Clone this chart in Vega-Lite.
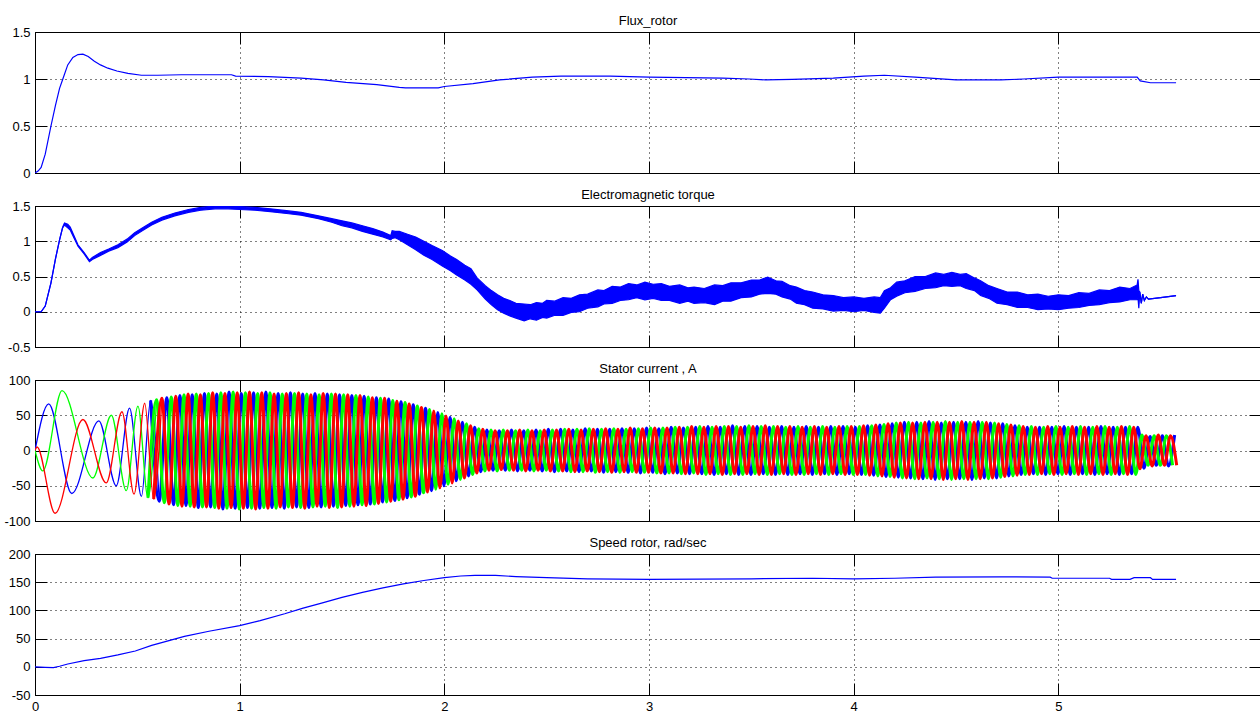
{
"$schema":"https://vega.github.io/schema/vega-lite/v6.json",
"background":"white",
"padding":{"left":3,"top":14,"right":0,"bottom":0},
"bounds":"flush",
"spacing":33,
"config":{
"font":"Liberation Sans",
"view":{"stroke":"#000","strokeWidth":1},
"axis":{"domain":false,"grid":false,"gridColor":"#000","gridDash":[1,4],"gridOpacity":1,"gridWidth":1,"tickColor":"#000","tickSize":-12,"tickWidth":1,"labelFont":"Liberation Sans","labelFontSize":13,"labelColor":"#000","labelPadding":17,"labelFlush":false,"title":null},
"title":{"font":"Liberation Sans","fontSize":13,"fontWeight":"normal","color":"#000","offset":-2}
},
"datasets":{
"flux":[{"t":0,"v":0},{"t":0.015,"v":0.02},{"t":0.03,"v":0.06},{"t":0.05,"v":0.2},{"t":0.078,"v":0.5},{"t":0.1,"v":0.72},{"t":0.12,"v":0.9},{"t":0.136,"v":1.0},{"t":0.16,"v":1.15},{"t":0.185,"v":1.23},{"t":0.21,"v":1.26},{"t":0.234,"v":1.265},{"t":0.26,"v":1.24},{"t":0.29,"v":1.19},{"t":0.32,"v":1.15},{"t":0.356,"v":1.115},{"t":0.4,"v":1.085},{"t":0.454,"v":1.06},{"t":0.52,"v":1.04},{"t":0.6,"v":1.04},{"t":0.716,"v":1.045},{"t":0.96,"v":1.045},{"t":0.98,"v":1.03},{"t":1.14,"v":1.025},{"t":1.3,"v":1.01},{"t":1.41,"v":0.99},{"t":1.52,"v":0.965},{"t":1.67,"v":0.94},{"t":1.78,"v":0.91},{"t":1.81,"v":0.905},{"t":1.97,"v":0.905},{"t":2.0,"v":0.92},{"t":2.14,"v":0.95},{"t":2.27,"v":0.99},{"t":2.43,"v":1.02},{"t":2.57,"v":1.03},{"t":2.81,"v":1.03},{"t":3.0,"v":1.02},{"t":3.36,"v":1.01},{"t":3.49,"v":1.0},{"t":3.57,"v":0.99},{"t":3.7,"v":0.995},{"t":3.9,"v":1.01},{"t":4.05,"v":1.03},{"t":4.15,"v":1.04},{"t":4.3,"v":1.02},{"t":4.5,"v":0.99},{"t":4.72,"v":0.99},{"t":4.83,"v":1.0},{"t":5.0,"v":1.02},{"t":5.385,"v":1.02},{"t":5.4,"v":0.98},{"t":5.45,"v":0.96},{"t":5.575,"v":0.96}],
"torque":[{"t":0,"lo":0,"hi":0},{"t":0.03,"lo":0,"hi":0},{"t":0.05,"lo":0.08,"hi":0.08},{"t":0.078,"lo":0.41,"hi":0.41},{"t":0.1,"lo":0.75,"hi":0.75},{"t":0.12,"lo":1.02,"hi":1.02},{"t":0.135,"lo":1.19,"hi":1.2},{"t":0.144,"lo":1.23,"hi":1.26},{"t":0.16,"lo":1.19,"hi":1.24},{"t":0.172,"lo":1.16,"hi":1.2},{"t":0.19,"lo":1.05,"hi":1.08},{"t":0.21,"lo":0.93,"hi":0.95},{"t":0.24,"lo":0.82,"hi":0.84},{"t":0.266,"lo":0.71,"hi":0.73},{"t":0.28,"lo":0.74,"hi":0.77},{"t":0.32,"lo":0.8,"hi":0.84},{"t":0.36,"lo":0.86,"hi":0.89},{"t":0.405,"lo":0.91,"hi":0.95},{"t":0.45,"lo":0.99,"hi":1.03},{"t":0.487,"lo":1.08,"hi":1.12},{"t":0.53,"lo":1.16,"hi":1.2},{"t":0.57,"lo":1.23,"hi":1.27},{"t":0.62,"lo":1.3,"hi":1.34},{"t":0.683,"lo":1.36,"hi":1.4},{"t":0.75,"lo":1.41,"hi":1.45},{"t":0.81,"lo":1.44,"hi":1.48},{"t":0.88,"lo":1.46,"hi":1.5},{"t":0.944,"lo":1.46,"hi":1.5},{"t":1.0,"lo":1.45,"hi":1.49},{"t":1.075,"lo":1.44,"hi":1.48},{"t":1.15,"lo":1.42,"hi":1.46},{"t":1.24,"lo":1.39,"hi":1.43},{"t":1.3,"lo":1.37,"hi":1.41},{"t":1.385,"lo":1.32,"hi":1.36},
{"t":1.45,"lo":1.27,"hi":1.32},{"t":1.5,"lo":1.22,"hi":1.29},{"t":1.548,"lo":1.19,"hi":1.26},{"t":1.6,"lo":1.14,"hi":1.22},{"t":1.65,"lo":1.1,"hi":1.18},{"t":1.7,"lo":1.06,"hi":1.13},{"t":1.738,"lo":1.02,"hi":1.08},{"t":1.745,"lo":1.04,"hi":1.15},{"t":1.76,"lo":1.05,"hi":1.14},{"t":1.78,"lo":1.02,"hi":1.14},{"t":1.82,"lo":0.95,"hi":1.1},{"t":1.86,"lo":0.88,"hi":1.06},{"t":1.9,"lo":0.8,"hi":1.0},{"t":1.94,"lo":0.74,"hi":0.94},{"t":1.99,"lo":0.65,"hi":0.87},{"t":2.03,"lo":0.58,"hi":0.79},{"t":2.06,"lo":0.52,"hi":0.74},{"t":2.1,"lo":0.45,"hi":0.66},{"t":2.13,"lo":0.39,"hi":0.61},{"t":2.16,"lo":0.31,"hi":0.48},{"t":2.2,"lo":0.18,"hi":0.37},{"t":2.23,"lo":0.1,"hi":0.3},{"t":2.26,"lo":0.03,"hi":0.24},{"t":2.29,"lo":-0.02,"hi":0.19},{"t":2.32,"lo":-0.06,"hi":0.16},{"t":2.35,"lo":-0.09,"hi":0.12},{"t":2.39,"lo":-0.13,"hi":0.11},{"t":2.42,"lo":-0.1,"hi":0.1},{"t":2.45,"lo":-0.12,"hi":0.13},{"t":2.48,"lo":-0.08,"hi":0.12},{"t":2.5,"lo":-0.09,"hi":0.16},{"t":2.54,"lo":-0.05,"hi":0.15},{"t":2.58,"lo":-0.05,"hi":0.2},{"t":2.62,"lo":-0.01,"hi":0.19},{"t":2.66,"lo":0.0,"hi":0.24},{"t":2.7,"lo":0.05,"hi":0.25},{"t":2.75,"lo":0.07,"hi":0.31},{"t":2.78,"lo":0.11,"hi":0.3},{"t":2.82,"lo":0.12,"hi":0.36},{"t":2.86,"lo":0.16,"hi":0.35},{"t":2.9,"lo":0.17,"hi":0.4},{"t":2.94,"lo":0.2,"hi":0.38},{"t":2.98,"lo":0.17,"hi":0.42},{"t":3.02,"lo":0.19,"hi":0.39},{"t":3.06,"lo":0.16,"hi":0.4},{"t":3.1,"lo":0.16,"hi":0.36},{"t":3.15,"lo":0.12,"hi":0.38},{"t":3.19,"lo":0.15,"hi":0.34},{"t":3.22,"lo":0.12,"hi":0.35},{"t":3.27,"lo":0.13,"hi":0.33},{"t":3.32,"lo":0.1,"hi":0.38},{"t":3.36,"lo":0.15,"hi":0.37},{"t":3.4,"lo":0.15,"hi":0.41},{"t":3.45,"lo":0.2,"hi":0.41},{"t":3.5,"lo":0.21,"hi":0.45},{"t":3.54,"lo":0.25,"hi":0.45},{"t":3.58,"lo":0.26,"hi":0.49},{"t":3.62,"lo":0.25,"hi":0.44},{"t":3.65,"lo":0.21,"hi":0.43},{"t":3.69,"lo":0.18,"hi":0.37},{"t":3.72,"lo":0.12,"hi":0.35},{"t":3.76,"lo":0.1,"hi":0.3},{"t":3.8,"lo":0.05,"hi":0.28},{"t":3.85,"lo":0.04,"hi":0.24},{"t":3.9,"lo":0.01,"hi":0.23},{"t":3.95,"lo":0.02,"hi":0.2},{"t":4.0,"lo":0.0,"hi":0.21},{"t":4.05,"lo":0.02,"hi":0.19},{"t":4.1,"lo":-0.01,"hi":0.21},{"t":4.13,"lo":-0.02,"hi":0.2},{"t":4.15,"lo":0.05,"hi":0.3},{"t":4.18,"lo":0.17,"hi":0.34},{"t":4.21,"lo":0.22,"hi":0.42},{"t":4.25,"lo":0.27,"hi":0.44},{"t":4.3,"lo":0.29,"hi":0.5},{"t":4.35,"lo":0.33,"hi":0.5},{"t":4.4,"lo":0.34,"hi":0.55},{"t":4.44,"lo":0.37,"hi":0.53},{"t":4.48,"lo":0.36,"hi":0.56},{"t":4.52,"lo":0.37,"hi":0.53},{"t":4.55,"lo":0.33,"hi":0.54},{"t":4.59,"lo":0.3,"hi":0.48},{"t":4.62,"lo":0.23,"hi":0.44},{"t":4.66,"lo":0.19,"hi":0.37},{"t":4.7,"lo":0.12,"hi":0.33},{"t":4.75,"lo":0.1,"hi":0.28},{"t":4.8,"lo":0.06,"hi":0.28},{"t":4.85,"lo":0.06,"hi":0.24},{"t":4.9,"lo":0.03,"hi":0.25},{"t":4.95,"lo":0.04,"hi":0.22},{"t":5.0,"lo":0.03,"hi":0.24},{"t":5.05,"lo":0.05,"hi":0.23},{"t":5.1,"lo":0.06,"hi":0.27},{"t":5.15,"lo":0.09,"hi":0.26},{"t":5.2,"lo":0.1,"hi":0.31},{"t":5.25,"lo":0.13,"hi":0.3},{"t":5.3,"lo":0.14,"hi":0.35},{"t":5.35,"lo":0.17,"hi":0.33},{"t":5.385,"lo":0.17,"hi":0.38},{"t":5.389,"lo":0.2,"hi":0.46},{"t":5.393,"lo":0.05,"hi":0.3},{"t":5.398,"lo":0.28,"hi":0.28},{"t":5.405,"lo":0.12,"hi":0.12},{"t":5.412,"lo":0.25,"hi":0.25},{"t":5.42,"lo":0.16,"hi":0.16},{"t":5.43,"lo":0.21,"hi":0.21},{"t":5.44,"lo":0.18,"hi":0.18},{"t":5.5,"lo":0.2,"hi":0.2},{"t":5.575,"lo":0.23,"hi":0.23}],
"speed":[{"t":0,"v":0},{"t":0.05,"v":-1},{"t":0.09,"v":-1.5},{"t":0.12,"v":1},{"t":0.16,"v":5},{"t":0.24,"v":11},{"t":0.32,"v":15},{"t":0.405,"v":21},{"t":0.49,"v":28},{"t":0.57,"v":38},{"t":0.65,"v":46},{"t":0.73,"v":54},{"t":0.85,"v":63},{"t":1.0,"v":73},{"t":1.1,"v":82},{"t":1.22,"v":94},{"t":1.31,"v":104},{"t":1.4,"v":113},{"t":1.5,"v":123},{"t":1.6,"v":132},{"t":1.7,"v":140},{"t":1.8,"v":147},{"t":1.9,"v":153},{"t":2.0,"v":158},{"t":2.08,"v":161},{"t":2.15,"v":162},{"t":2.25,"v":162},{"t":2.35,"v":160},{"t":2.5,"v":158},{"t":2.7,"v":156},{"t":3.0,"v":155},{"t":3.5,"v":156},{"t":3.8,"v":157},{"t":4.0,"v":156},{"t":4.2,"v":157},{"t":4.4,"v":159},{"t":4.72,"v":159.5},{"t":4.96,"v":159},{"t":4.97,"v":157},{"t":5.25,"v":157},{"t":5.26,"v":155},{"t":5.35,"v":155},{"t":5.37,"v":158},{"t":5.45,"v":158},{"t":5.46,"v":155},{"t":5.575,"v":155}],
"cur":[
{"t":0,"p":"B","v":0},{"t":0.067,"p":"B","v":66},{"t":0.18,"p":"B","v":-61},{"t":0.312,"p":"B","v":42},{"t":0.397,"p":"B","v":-50},{"t":0.462,"p":"B","v":60},{"t":0.52,"p":"B","v":-65},{"t":0.565,"p":"B","v":71},
{"t":0,"p":"G","v":0},{"t":0.038,"p":"G","v":-29},{"t":0.132,"p":"G","v":85},{"t":0.283,"p":"G","v":-39},{"t":0.373,"p":"G","v":50},{"t":0.446,"p":"G","v":-57},{"t":0.503,"p":"G","v":63},{"t":0.552,"p":"G","v":-67},
{"t":0,"p":"R","v":0},{"t":0.01,"p":"R","v":5},{"t":0.098,"p":"R","v":-89},{"t":0.234,"p":"R","v":44},{"t":0.348,"p":"R","v":-46},{"t":0.425,"p":"R","v":55},{"t":0.484,"p":"R","v":-62},{"t":0.536,"p":"R","v":67},{"t":0.58,"p":"R","v":-69},
{"t":0.594,"p":"G","v":72},{"t":0.607,"p":"B","v":-72},{"t":0.62,"p":"R","v":74},{"t":0.632,"p":"G","v":-74},{"t":0.644,"p":"B","v":75},{"t":0.655,"p":"R","v":-76},{"t":0.666,"p":"G","v":76},{"t":0.677,"p":"B","v":-77},{"t":0.688,"p":"R","v":77},{"t":0.698,"p":"G","v":-78},{"t":0.708,"p":"B","v":78},{"t":0.718,"p":"R","v":-79},
{"t":0.728,"p":"G","v":79},{"t":0.738,"p":"B","v":-78},{"t":0.748,"p":"R","v":80},{"t":0.758,"p":"G","v":-79},{"t":0.768,"p":"B","v":79},{"t":0.778,"p":"R","v":-80},
{"t":0.788,"p":"G","v":80},{"t":0.798,"p":"B","v":-81},{"t":0.808,"p":"R","v":79},{"t":0.818,"p":"G","v":-80},{"t":0.828,"p":"B","v":81},{"t":0.838,"p":"R","v":-80},
{"t":0.848,"p":"G","v":81},{"t":0.858,"p":"B","v":-80},{"t":0.868,"p":"R","v":82},{"t":0.878,"p":"G","v":-81},{"t":0.888,"p":"B","v":80},{"t":0.898,"p":"R","v":-82},
{"t":0.908,"p":"G","v":82},{"t":0.918,"p":"B","v":-83},{"t":0.928,"p":"R","v":81},{"t":0.938,"p":"G","v":-82},{"t":0.948,"p":"B","v":83},{"t":0.958,"p":"R","v":-81},
{"t":0.968,"p":"G","v":83},{"t":0.978,"p":"B","v":-82},{"t":0.988,"p":"R","v":82},{"t":0.998,"p":"G","v":-83},{"t":1.008,"p":"B","v":81},{"t":1.018,"p":"R","v":-82},
{"t":1.028,"p":"G","v":82},{"t":1.038,"p":"B","v":-81},{"t":1.048,"p":"R","v":83},{"t":1.058,"p":"G","v":-82},{"t":1.068,"p":"B","v":82},{"t":1.078,"p":"R","v":-83},
{"t":1.088,"p":"G","v":81},{"t":1.098,"p":"B","v":-82},{"t":1.108,"p":"R","v":82},{"t":1.118,"p":"G","v":-81},{"t":1.128,"p":"B","v":83},{"t":1.138,"p":"R","v":-82},
{"t":1.148,"p":"G","v":82},{"t":1.158,"p":"B","v":-81},{"t":1.168,"p":"R","v":80},{"t":1.178,"p":"G","v":-82},{"t":1.188,"p":"B","v":81},{"t":1.198,"p":"R","v":-80},
{"t":1.208,"p":"G","v":80},{"t":1.218,"p":"B","v":-82},{"t":1.228,"p":"R","v":81},{"t":1.238,"p":"G","v":-80},{"t":1.248,"p":"B","v":82},{"t":1.258,"p":"R","v":-81},
{"t":1.268,"p":"G","v":81},{"t":1.278,"p":"B","v":-80},{"t":1.288,"p":"R","v":82},{"t":1.298,"p":"G","v":-81},{"t":1.308,"p":"B","v":80},{"t":1.318,"p":"R","v":-82},
{"t":1.328,"p":"G","v":80},{"t":1.338,"p":"B","v":-81},{"t":1.348,"p":"R","v":79},{"t":1.358,"p":"G","v":-80},{"t":1.368,"p":"B","v":81},{"t":1.378,"p":"R","v":-79},
{"t":1.388,"p":"G","v":79},{"t":1.398,"p":"B","v":-80},{"t":1.408,"p":"R","v":81},{"t":1.418,"p":"G","v":-79},{"t":1.428,"p":"B","v":80},{"t":1.438,"p":"R","v":-81},
{"t":1.448,"p":"G","v":80},{"t":1.458,"p":"B","v":-79},{"t":1.468,"p":"R","v":80},{"t":1.478,"p":"G","v":-81},{"t":1.488,"p":"B","v":79},{"t":1.498,"p":"R","v":-80},
{"t":1.508,"p":"G","v":79},{"t":1.518,"p":"B","v":-78},{"t":1.528,"p":"R","v":79},{"t":1.538,"p":"G","v":-79},{"t":1.548,"p":"B","v":78},{"t":1.558,"p":"R","v":-79},
{"t":1.568,"p":"G","v":78},{"t":1.578,"p":"B","v":-77},{"t":1.588,"p":"R","v":78},{"t":1.598,"p":"G","v":-77},{"t":1.608,"p":"B","v":77},{"t":1.618,"p":"R","v":-78},
{"t":1.628,"p":"G","v":76},{"t":1.638,"p":"B","v":-76},{"t":1.648,"p":"R","v":75},{"t":1.658,"p":"G","v":-76},{"t":1.668,"p":"B","v":75},{"t":1.678,"p":"R","v":-75},
{"t":1.688,"p":"G","v":74},{"t":1.698,"p":"B","v":-73},{"t":1.708,"p":"R","v":74},{"t":1.718,"p":"G","v":-73},{"t":1.728,"p":"B","v":73},{"t":1.738,"p":"R","v":-72},
{"t":1.748,"p":"G","v":71},{"t":1.758,"p":"B","v":-71},{"t":1.768,"p":"R","v":70},{"t":1.778,"p":"G","v":-70},{"t":1.788,"p":"B","v":69},{"t":1.798,"p":"R","v":-69},
{"t":1.808,"p":"G","v":68},{"t":1.818,"p":"B","v":-67},{"t":1.828,"p":"R","v":66},{"t":1.838,"p":"G","v":-66},{"t":1.848,"p":"B","v":65},{"t":1.858,"p":"R","v":-65},
{"t":1.868,"p":"G","v":63},{"t":1.878,"p":"B","v":-62},{"t":1.888,"p":"R","v":61},{"t":1.898,"p":"G","v":-60},{"t":1.908,"p":"B","v":60},{"t":1.918,"p":"R","v":-59},
{"t":1.928,"p":"G","v":58},{"t":1.938,"p":"B","v":-57},{"t":1.948,"p":"R","v":56},{"t":1.958,"p":"G","v":-55},{"t":1.968,"p":"B","v":54},{"t":1.978,"p":"R","v":-53},
{"t":1.988,"p":"G","v":52},{"t":1.998,"p":"B","v":-50},{"t":2.008,"p":"R","v":49},{"t":2.018,"p":"G","v":-48},{"t":2.028,"p":"B","v":47},{"t":2.038,"p":"R","v":-46},
{"t":2.048,"p":"G","v":45},{"t":2.058,"p":"B","v":-43},{"t":2.068,"p":"R","v":42},{"t":2.078,"p":"G","v":-41},{"t":2.088,"p":"B","v":40},{"t":2.098,"p":"R","v":-39},
{"t":2.108,"p":"G","v":38},{"t":2.118,"p":"B","v":-36},{"t":2.128,"p":"R","v":35},{"t":2.138,"p":"G","v":-34},{"t":2.148,"p":"B","v":33},{"t":2.158,"p":"R","v":-32},
{"t":2.168,"p":"G","v":31},{"t":2.178,"p":"B","v":-30},{"t":2.188,"p":"R","v":30},{"t":2.198,"p":"G","v":-29},{"t":2.208,"p":"B","v":29},{"t":2.218,"p":"R","v":-28},
{"t":2.228,"p":"G","v":29},{"t":2.238,"p":"B","v":-28},{"t":2.248,"p":"R","v":28},{"t":2.258,"p":"G","v":-29},{"t":2.268,"p":"B","v":28},{"t":2.278,"p":"R","v":-27},
{"t":2.288,"p":"G","v":29},{"t":2.298,"p":"B","v":-28},{"t":2.308,"p":"R","v":28},{"t":2.318,"p":"G","v":-28},{"t":2.328,"p":"B","v":29},{"t":2.338,"p":"R","v":-28},
{"t":2.348,"p":"G","v":28},{"t":2.358,"p":"B","v":-29},{"t":2.368,"p":"R","v":29},{"t":2.378,"p":"G","v":-28},{"t":2.388,"p":"B","v":28},{"t":2.398,"p":"R","v":-29},
{"t":2.408,"p":"G","v":29},{"t":2.418,"p":"B","v":-28},{"t":2.428,"p":"R","v":28},{"t":2.438,"p":"G","v":-29},{"t":2.448,"p":"B","v":29},{"t":2.458,"p":"R","v":-28},
{"t":2.468,"p":"G","v":28},{"t":2.478,"p":"B","v":-29},{"t":2.488,"p":"R","v":29},{"t":2.498,"p":"G","v":-28},{"t":2.508,"p":"B","v":30},{"t":2.518,"p":"R","v":-29},
{"t":2.528,"p":"G","v":29},{"t":2.538,"p":"B","v":-30},{"t":2.548,"p":"R","v":29},{"t":2.558,"p":"G","v":-29},{"t":2.568,"p":"B","v":30},{"t":2.578,"p":"R","v":-29},
{"t":2.588,"p":"G","v":30},{"t":2.598,"p":"B","v":-29},{"t":2.608,"p":"R","v":30},{"t":2.618,"p":"G","v":-30},{"t":2.628,"p":"B","v":29},{"t":2.638,"p":"R","v":-30},
{"t":2.648,"p":"G","v":30},{"t":2.658,"p":"B","v":-30},{"t":2.668,"p":"R","v":29},{"t":2.678,"p":"G","v":-30},{"t":2.688,"p":"B","v":31},{"t":2.698,"p":"R","v":-29},
{"t":2.708,"p":"G","v":31},{"t":2.718,"p":"B","v":-29},{"t":2.728,"p":"R","v":30},{"t":2.738,"p":"G","v":-31},{"t":2.748,"p":"B","v":30},{"t":2.758,"p":"R","v":-30},
{"t":2.768,"p":"G","v":30},{"t":2.778,"p":"B","v":-31},{"t":2.788,"p":"R","v":31},{"t":2.798,"p":"G","v":-30},{"t":2.808,"p":"B","v":30},{"t":2.818,"p":"R","v":-31},
{"t":2.828,"p":"G","v":31},{"t":2.838,"p":"B","v":-30},{"t":2.848,"p":"R","v":30},{"t":2.858,"p":"G","v":-31},{"t":2.868,"p":"B","v":31},{"t":2.878,"p":"R","v":-30},
{"t":2.888,"p":"G","v":30},{"t":2.898,"p":"B","v":-31},{"t":2.908,"p":"R","v":32},{"t":2.918,"p":"G","v":-30},{"t":2.928,"p":"B","v":31},{"t":2.938,"p":"R","v":-31},
{"t":2.948,"p":"G","v":31},{"t":2.958,"p":"B","v":-32},{"t":2.968,"p":"R","v":31},{"t":2.978,"p":"G","v":-31},{"t":2.988,"p":"B","v":32},{"t":2.998,"p":"R","v":-31},
{"t":3.008,"p":"G","v":32},{"t":3.018,"p":"B","v":-31},{"t":3.028,"p":"R","v":32},{"t":3.038,"p":"G","v":-32},{"t":3.048,"p":"B","v":31},{"t":3.058,"p":"R","v":-32},
{"t":3.068,"p":"G","v":32},{"t":3.078,"p":"B","v":-33},{"t":3.088,"p":"R","v":32},{"t":3.098,"p":"G","v":-32},{"t":3.108,"p":"B","v":33},{"t":3.118,"p":"R","v":-32},
{"t":3.128,"p":"G","v":33},{"t":3.138,"p":"B","v":-32},{"t":3.148,"p":"R","v":33},{"t":3.158,"p":"G","v":-33},{"t":3.168,"p":"B","v":32},{"t":3.178,"p":"R","v":-33},
{"t":3.188,"p":"G","v":33},{"t":3.198,"p":"B","v":-33},{"t":3.208,"p":"R","v":34},{"t":3.218,"p":"G","v":-32},{"t":3.228,"p":"B","v":33},{"t":3.238,"p":"R","v":-33},
{"t":3.248,"p":"G","v":34},{"t":3.258,"p":"B","v":-33},{"t":3.268,"p":"R","v":33},{"t":3.278,"p":"G","v":-34},{"t":3.288,"p":"B","v":34},{"t":3.298,"p":"R","v":-33},
{"t":3.308,"p":"G","v":33},{"t":3.318,"p":"B","v":-34},{"t":3.328,"p":"R","v":34},{"t":3.338,"p":"G","v":-33},{"t":3.348,"p":"B","v":33},{"t":3.358,"p":"R","v":-34},
{"t":3.368,"p":"G","v":34},{"t":3.378,"p":"B","v":-33},{"t":3.388,"p":"R","v":34},{"t":3.398,"p":"G","v":-34},{"t":3.408,"p":"B","v":35},{"t":3.418,"p":"R","v":-33},
{"t":3.428,"p":"G","v":34},{"t":3.438,"p":"B","v":-34},{"t":3.448,"p":"R","v":33},{"t":3.458,"p":"G","v":-34},{"t":3.468,"p":"B","v":34},{"t":3.478,"p":"R","v":-33},
{"t":3.488,"p":"G","v":35},{"t":3.498,"p":"B","v":-34},{"t":3.508,"p":"R","v":34},{"t":3.518,"p":"G","v":-33},{"t":3.528,"p":"B","v":34},{"t":3.538,"p":"R","v":-34},
{"t":3.548,"p":"G","v":34},{"t":3.558,"p":"B","v":-33},{"t":3.568,"p":"R","v":35},{"t":3.578,"p":"G","v":-34},{"t":3.588,"p":"B","v":33},{"t":3.598,"p":"R","v":-34},
{"t":3.608,"p":"G","v":34},{"t":3.618,"p":"B","v":-34},{"t":3.628,"p":"R","v":34},{"t":3.638,"p":"G","v":-33},{"t":3.648,"p":"B","v":34},{"t":3.658,"p":"R","v":-33},
{"t":3.668,"p":"G","v":33},{"t":3.678,"p":"B","v":-34},{"t":3.688,"p":"R","v":34},{"t":3.698,"p":"G","v":-34},{"t":3.708,"p":"B","v":33},{"t":3.718,"p":"R","v":-34},
{"t":3.728,"p":"G","v":34},{"t":3.738,"p":"B","v":-33},{"t":3.748,"p":"R","v":33},{"t":3.758,"p":"G","v":-34},{"t":3.768,"p":"B","v":34},{"t":3.778,"p":"R","v":-33},
{"t":3.788,"p":"G","v":33},{"t":3.798,"p":"B","v":-34},{"t":3.808,"p":"R","v":34},{"t":3.818,"p":"G","v":-33},{"t":3.828,"p":"B","v":33},{"t":3.838,"p":"R","v":-34},
{"t":3.848,"p":"G","v":34},{"t":3.858,"p":"B","v":-33},{"t":3.868,"p":"R","v":33},{"t":3.878,"p":"G","v":-34},{"t":3.888,"p":"B","v":34},{"t":3.898,"p":"R","v":-33},
{"t":3.908,"p":"G","v":33},{"t":3.918,"p":"B","v":-34},{"t":3.928,"p":"R","v":34},{"t":3.938,"p":"G","v":-33},{"t":3.948,"p":"B","v":34},{"t":3.958,"p":"R","v":-34},
{"t":3.968,"p":"G","v":34},{"t":3.978,"p":"B","v":-33},{"t":3.988,"p":"R","v":34},{"t":3.998,"p":"G","v":-34},{"t":4.008,"p":"B","v":33},{"t":4.018,"p":"R","v":-34},
{"t":4.028,"p":"G","v":34},{"t":4.038,"p":"B","v":-34},{"t":4.048,"p":"R","v":35},{"t":4.058,"p":"G","v":-34},{"t":4.068,"p":"B","v":35},{"t":4.078,"p":"R","v":-35},
{"t":4.088,"p":"G","v":35},{"t":4.098,"p":"B","v":-35},{"t":4.108,"p":"R","v":36},{"t":4.118,"p":"G","v":-36},{"t":4.128,"p":"B","v":36},{"t":4.138,"p":"R","v":-36},
{"t":4.148,"p":"G","v":37},{"t":4.158,"p":"B","v":-37},{"t":4.168,"p":"R","v":38},{"t":4.178,"p":"G","v":-37},{"t":4.188,"p":"B","v":38},{"t":4.198,"p":"R","v":-38},
{"t":4.208,"p":"G","v":39},{"t":4.218,"p":"B","v":-38},{"t":4.228,"p":"R","v":39},{"t":4.238,"p":"G","v":-39},{"t":4.248,"p":"B","v":40},{"t":4.258,"p":"R","v":-39},
{"t":4.268,"p":"G","v":40},{"t":4.278,"p":"B","v":-39},{"t":4.288,"p":"R","v":39},{"t":4.298,"p":"G","v":-40},{"t":4.308,"p":"B","v":40},{"t":4.318,"p":"R","v":-40},
{"t":4.328,"p":"G","v":39},{"t":4.338,"p":"B","v":-40},{"t":4.348,"p":"R","v":40},{"t":4.358,"p":"G","v":-39},{"t":4.368,"p":"B","v":41},{"t":4.378,"p":"R","v":-40},
{"t":4.388,"p":"G","v":40},{"t":4.398,"p":"B","v":-41},{"t":4.408,"p":"R","v":40},{"t":4.418,"p":"G","v":-40},{"t":4.428,"p":"B","v":39},{"t":4.438,"p":"R","v":-41},
{"t":4.448,"p":"G","v":41},{"t":4.458,"p":"B","v":-40},{"t":4.468,"p":"R","v":40},{"t":4.478,"p":"G","v":-41},{"t":4.488,"p":"B","v":40},{"t":4.498,"p":"R","v":-40},
{"t":4.508,"p":"G","v":40},{"t":4.518,"p":"B","v":-40},{"t":4.528,"p":"R","v":41},{"t":4.538,"p":"G","v":-40},{"t":4.548,"p":"B","v":40},{"t":4.558,"p":"R","v":-41},
{"t":4.568,"p":"G","v":40},{"t":4.578,"p":"B","v":-41},{"t":4.588,"p":"R","v":40},{"t":4.598,"p":"G","v":-40},{"t":4.608,"p":"B","v":41},{"t":4.618,"p":"R","v":-40},
{"t":4.628,"p":"G","v":40},{"t":4.638,"p":"B","v":-39},{"t":4.648,"p":"R","v":40},{"t":4.658,"p":"G","v":-40},{"t":4.668,"p":"B","v":39},{"t":4.678,"p":"R","v":-39},
{"t":4.688,"p":"G","v":39},{"t":4.698,"p":"B","v":-39},{"t":4.708,"p":"R","v":38},{"t":4.718,"p":"G","v":-38},{"t":4.728,"p":"B","v":38},{"t":4.738,"p":"R","v":-37},
{"t":4.748,"p":"G","v":37},{"t":4.758,"p":"B","v":-36},{"t":4.768,"p":"R","v":36},{"t":4.778,"p":"G","v":-36},{"t":4.788,"p":"B","v":35},{"t":4.798,"p":"R","v":-35},
{"t":4.808,"p":"G","v":35},{"t":4.818,"p":"B","v":-34},{"t":4.828,"p":"R","v":34},{"t":4.838,"p":"G","v":-34},{"t":4.848,"p":"B","v":33},{"t":4.858,"p":"R","v":-34},
{"t":4.868,"p":"G","v":34},{"t":4.878,"p":"B","v":-33},{"t":4.888,"p":"R","v":33},{"t":4.898,"p":"G","v":-34},{"t":4.908,"p":"B","v":33},{"t":4.918,"p":"R","v":-33},
{"t":4.928,"p":"G","v":33},{"t":4.938,"p":"B","v":-34},{"t":4.948,"p":"R","v":34},{"t":4.958,"p":"G","v":-33},{"t":4.968,"p":"B","v":33},{"t":4.978,"p":"R","v":-34},
{"t":4.988,"p":"G","v":34},{"t":4.998,"p":"B","v":-33},{"t":5.008,"p":"R","v":33},{"t":5.018,"p":"G","v":-34},{"t":5.028,"p":"B","v":34},{"t":5.038,"p":"R","v":-33},
{"t":5.048,"p":"G","v":33},{"t":5.058,"p":"B","v":-34},{"t":5.068,"p":"R","v":34},{"t":5.078,"p":"G","v":-33},{"t":5.088,"p":"B","v":33},{"t":5.098,"p":"R","v":-34},
{"t":5.108,"p":"G","v":34},{"t":5.118,"p":"B","v":-33},{"t":5.128,"p":"R","v":33},{"t":5.138,"p":"G","v":-34},{"t":5.148,"p":"B","v":33},{"t":5.158,"p":"R","v":-33},
{"t":5.168,"p":"G","v":33},{"t":5.178,"p":"B","v":-34},{"t":5.188,"p":"R","v":34},{"t":5.198,"p":"G","v":-33},{"t":5.208,"p":"B","v":34},{"t":5.218,"p":"R","v":-34},
{"t":5.228,"p":"G","v":34},{"t":5.238,"p":"B","v":-33},{"t":5.248,"p":"R","v":33},{"t":5.258,"p":"G","v":-34},{"t":5.268,"p":"B","v":33},{"t":5.278,"p":"R","v":-33},
{"t":5.288,"p":"G","v":33},{"t":5.298,"p":"B","v":-34},{"t":5.308,"p":"R","v":34},{"t":5.318,"p":"G","v":-33},{"t":5.328,"p":"B","v":33},{"t":5.338,"p":"R","v":-34},
{"t":5.348,"p":"G","v":34},{"t":5.358,"p":"B","v":-33},{"t":5.368,"p":"R","v":33},{"t":5.378,"p":"G","v":-34},{"t":5.388,"p":"B","v":33},{"t":5.398,"p":"R","v":-26},
{"t":5.408,"p":"G","v":22},{"t":5.418,"p":"B","v":-25},{"t":5.428,"p":"R","v":21},{"t":5.438,"p":"G","v":-21},{"t":5.448,"p":"B","v":20},{"t":5.458,"p":"R","v":-22},
{"t":5.468,"p":"G","v":21},{"t":5.478,"p":"B","v":-21},{"t":5.488,"p":"R","v":22},{"t":5.498,"p":"G","v":-21},{"t":5.508,"p":"B","v":21},{"t":5.518,"p":"R","v":-21},
{"t":5.528,"p":"G","v":21},{"t":5.538,"p":"B","v":-22},{"t":5.548,"p":"R","v":21},{"t":5.558,"p":"G","v":-21},{"t":5.568,"p":"B","v":22},{"t":5.578,"p":"R","v":-21}
]
},
"vconcat":[
{
"width":1226,"height":141,"title":"Flux_rotor",
"data":{"name":"flux"},
"layer":[
{"mark":{"type":"line","color":"#0000ff","strokeWidth":1.2,"clip":true},
"encoding":{
"x":{"field":"t","type":"quantitative","scale":{"domain":[0,5.99],"nice":false,"zero":false},"axis":{"orient":"bottom","values":[0,1,2,3,4,5],"labels":false,"grid":true}},
"y":{"field":"v","type":"quantitative","scale":{"domain":[0,1.5],"nice":false},"axis":{"orient":"left","values":[0,0.5,1,1.5],"labelExpr":"''+datum.value","grid":true}}}},
{"mark":{"type":"line","strokeOpacity":0,"clip":true},
"encoding":{
"x":{"field":"t","type":"quantitative","axis":{"orient":"top","values":[0,1,2,3,4,5],"labels":false,"grid":false}},
"y":{"field":"v","type":"quantitative","axis":{"orient":"right","values":[0,0.5,1,1.5],"labels":false,"grid":false}}}}
],
"resolve":{"axis":{"x":"independent","y":"independent"}}
},
{
"width":1226,"height":141,"title":"Electromagnetic torque",
"data":{"name":"torque"},
"layer":[
{"mark":{"type":"area","color":"#0000ff","opacity":1,"clip":true},
"encoding":{
"x":{"field":"t","type":"quantitative","scale":{"domain":[0,5.99],"nice":false,"zero":false},"axis":{"orient":"bottom","values":[0,1,2,3,4,5],"labels":false,"grid":true}},
"y":{"field":"lo","type":"quantitative","scale":{"domain":[-0.5,1.5],"nice":false},"axis":{"orient":"left","values":[-0.5,0,0.5,1,1.5],"labelExpr":"''+datum.value","grid":true}},
"y2":{"field":"hi"}}},
{"mark":{"type":"line","color":"#0000ff","strokeWidth":1.2,"clip":true},
"encoding":{"x":{"field":"t","type":"quantitative","axis":null},"y":{"field":"hi","type":"quantitative","axis":null}}},
{"mark":{"type":"line","color":"#0000ff","strokeWidth":1.2,"clip":true},
"encoding":{"x":{"field":"t","type":"quantitative","axis":null},"y":{"field":"lo","type":"quantitative","axis":null}}},
{"mark":{"type":"line","strokeOpacity":0,"clip":true},
"encoding":{
"x":{"field":"t","type":"quantitative","axis":{"orient":"top","values":[0,1,2,3,4,5],"labels":false,"grid":false}},
"y":{"field":"lo","type":"quantitative","axis":{"orient":"right","values":[-0.5,0,0.5,1,1.5],"labels":false,"grid":false}}}}
],
"resolve":{"axis":{"x":"independent","y":"independent"}}
},
{
"width":1226,"height":141,"title":"Stator current , A",
"data":{"name":"cur"},
"layer":[
{"transform":[{"filter":"datum.p==='B' && datum.t<=0.62"}],
"mark":{"type":"line","color":"#0000ff","strokeWidth":1.3,"interpolate":"monotone","clip":true},
"encoding":{
"x":{"field":"t","type":"quantitative","scale":{"domain":[0,5.99],"nice":false,"zero":false},"axis":{"orient":"bottom","values":[0,1,2,3,4,5],"labels":false,"grid":true}},
"y":{"field":"v","type":"quantitative","scale":{"domain":[-100,100],"nice":false},"axis":{"orient":"left","values":[-100,-50,0,50,100],"labelExpr":"''+datum.value","grid":true}}}},
{"transform":[{"filter":"datum.p==='B' && datum.t>=0.55"}],
"mark":{"type":"line","color":"#0000ff","strokeWidth":3,"interpolate":"monotone","clip":true},
"encoding":{"x":{"field":"t","type":"quantitative","axis":null},"y":{"field":"v","type":"quantitative","axis":null}}},
{"transform":[{"filter":"datum.p==='G' && datum.t<=0.62"}],
"mark":{"type":"line","color":"#00ff00","strokeWidth":1.3,"interpolate":"monotone","clip":true},
"encoding":{"x":{"field":"t","type":"quantitative","axis":null},"y":{"field":"v","type":"quantitative","axis":null}}},
{"transform":[{"filter":"datum.p==='G' && datum.t>=0.55"}],
"mark":{"type":"line","color":"#00ff00","strokeWidth":3,"interpolate":"monotone","clip":true},
"encoding":{"x":{"field":"t","type":"quantitative","axis":null},"y":{"field":"v","type":"quantitative","axis":null}}},
{"transform":[{"filter":"datum.p==='R' && datum.t<=0.62"}],
"mark":{"type":"line","color":"#ff0000","strokeWidth":1.3,"interpolate":"monotone","clip":true},
"encoding":{"x":{"field":"t","type":"quantitative","axis":null},"y":{"field":"v","type":"quantitative","axis":null}}},
{"transform":[{"filter":"datum.p==='R' && datum.t>=0.55"}],
"mark":{"type":"line","color":"#ff0000","strokeWidth":3,"interpolate":"monotone","clip":true},
"encoding":{"x":{"field":"t","type":"quantitative","axis":null},"y":{"field":"v","type":"quantitative","axis":null}}},
{"mark":{"type":"line","strokeOpacity":0,"clip":true},
"encoding":{
"x":{"field":"t","type":"quantitative","axis":{"orient":"top","values":[0,1,2,3,4,5],"labels":false,"grid":false}},
"y":{"field":"v","type":"quantitative","axis":{"orient":"right","values":[-100,-50,0,50,100],"labels":false,"grid":false}}}}
],
"resolve":{"axis":{"x":"independent","y":"independent"}}
},
{
"width":1226,"height":141,"title":"Speed rotor, rad/sec",
"data":{"name":"speed"},
"layer":[
{"mark":{"type":"line","color":"#0000ff","strokeWidth":1.2,"clip":true},
"encoding":{
"x":{"field":"t","type":"quantitative","scale":{"domain":[0,5.99],"nice":false,"zero":false},"axis":{"orient":"bottom","values":[0,1,2,3,4,5],"labelExpr":"''+datum.value","grid":true}},
"y":{"field":"v","type":"quantitative","scale":{"domain":[-50,200],"nice":false},"axis":{"orient":"left","values":[-50,0,50,100,150,200],"labelExpr":"''+datum.value","grid":true}}}},
{"mark":{"type":"line","strokeOpacity":0,"clip":true},
"encoding":{
"x":{"field":"t","type":"quantitative","axis":{"orient":"top","values":[0,1,2,3,4,5],"labels":false,"grid":false}},
"y":{"field":"v","type":"quantitative","axis":{"orient":"right","values":[-50,0,50,100,150,200],"labels":false,"grid":false}}}}
],
"resolve":{"axis":{"x":"independent","y":"independent"}}
}
]
}
